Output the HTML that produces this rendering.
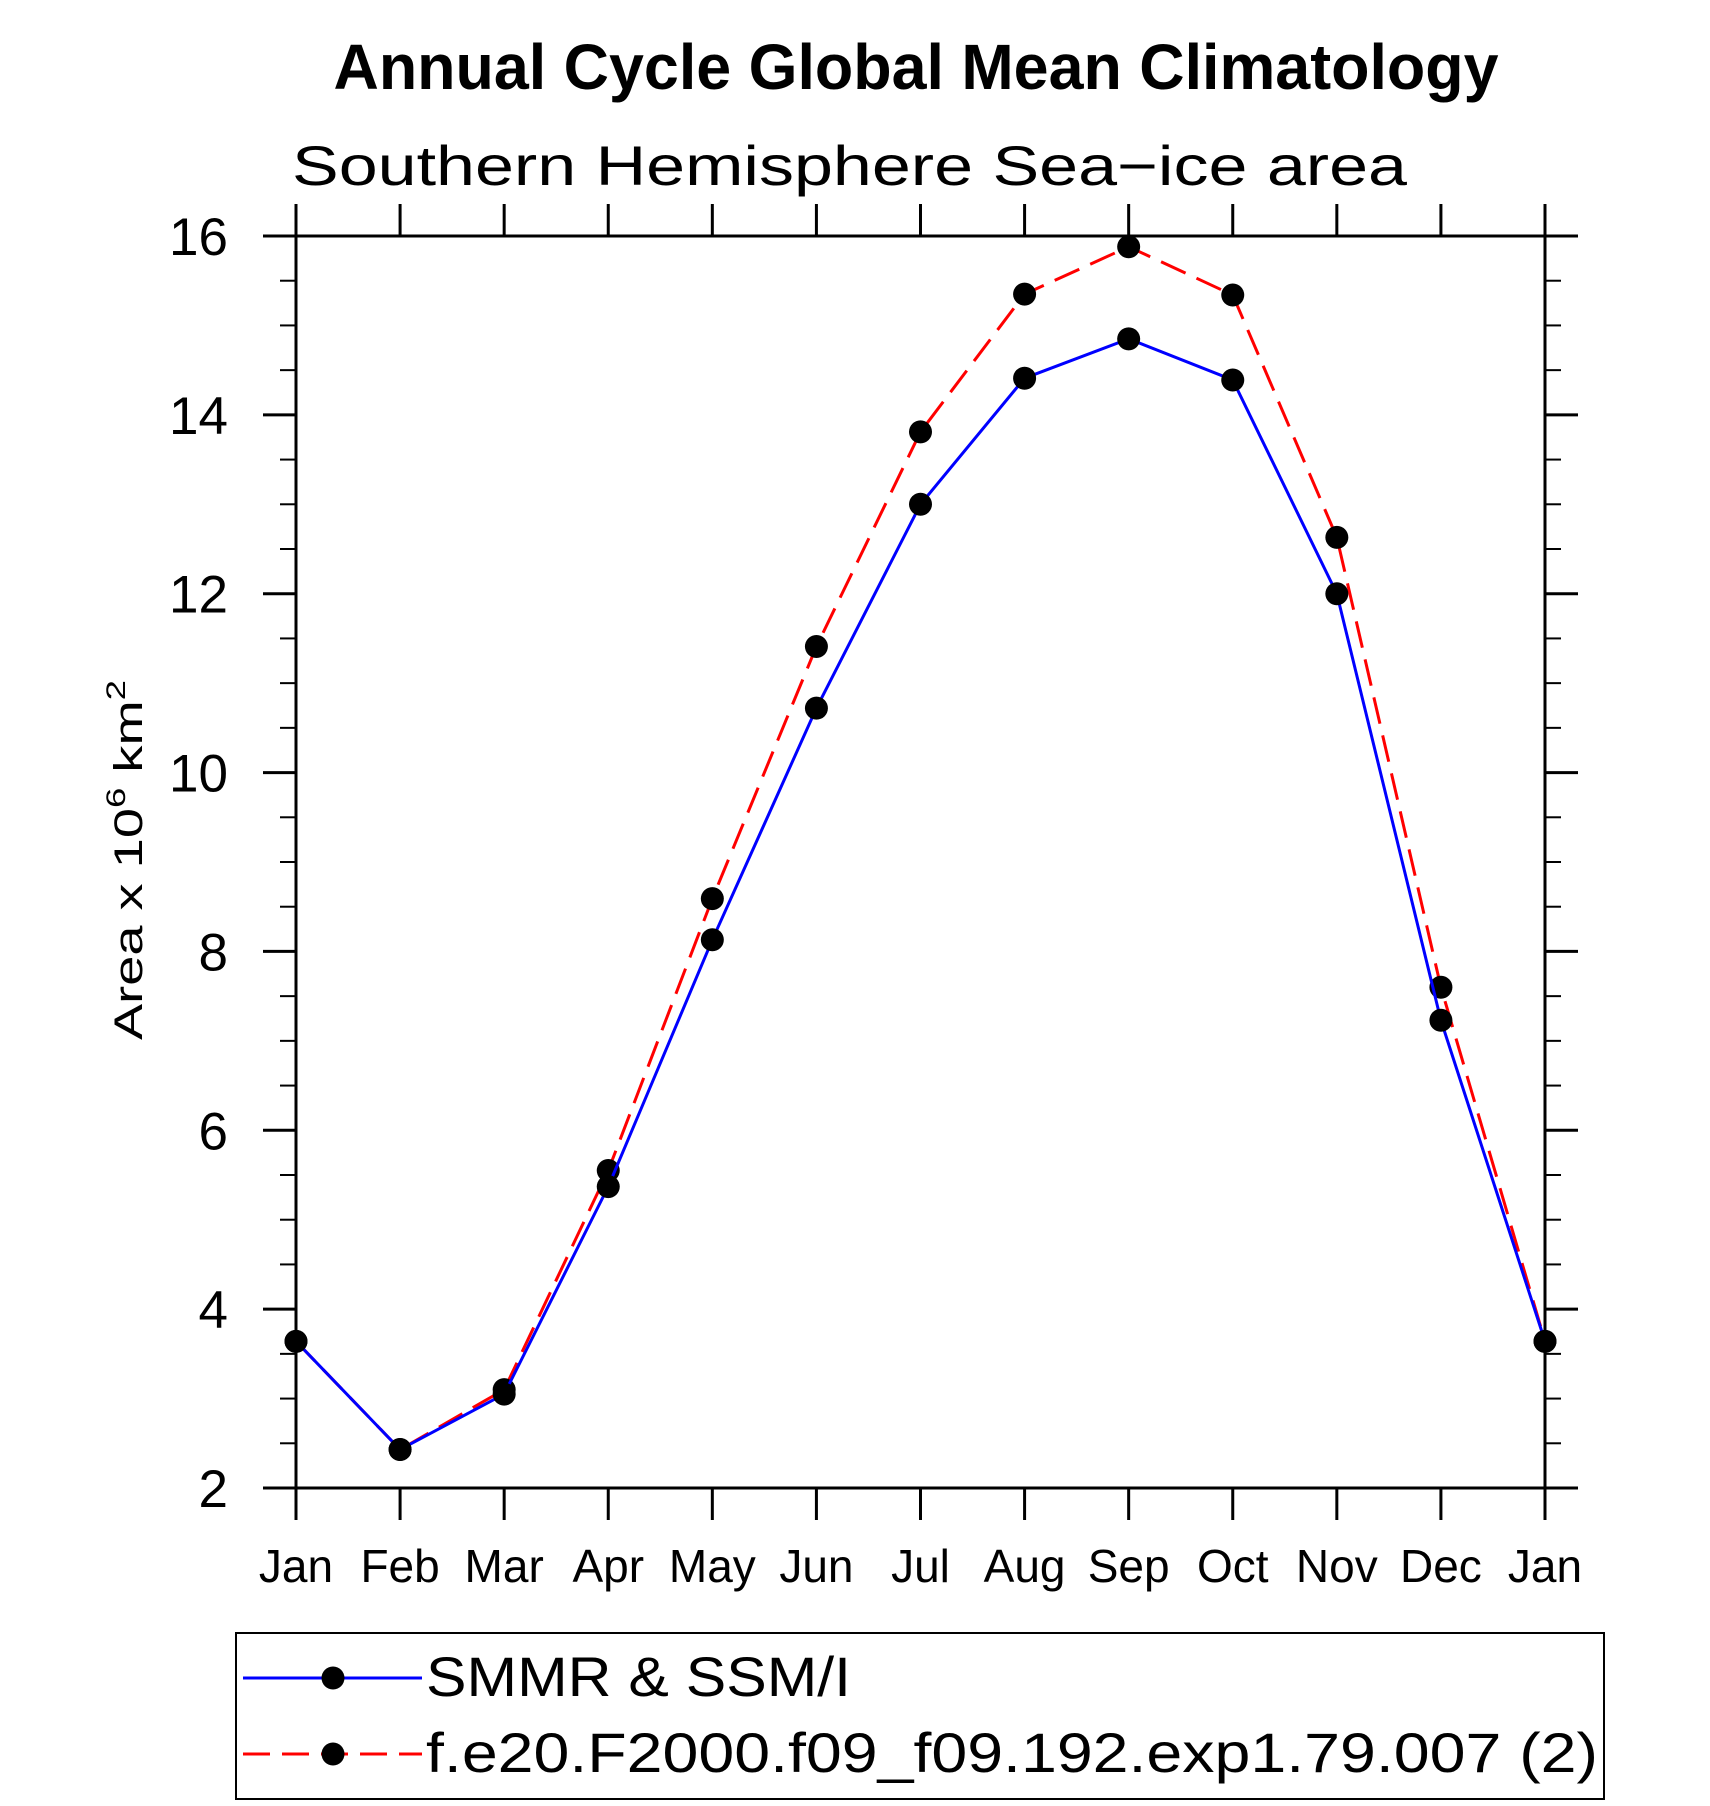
<!DOCTYPE html>
<html><head><meta charset="utf-8"><style>html,body{margin:0;padding:0;background:#fff}svg{display:block}text{font-family:"Liberation Sans",sans-serif;fill:#000}</style></head>
<body>
<svg id="chart" width="1710" height="1806" viewBox="0 0 1710 1806" xmlns="http://www.w3.org/2000/svg">
<text x="916" y="89" text-anchor="middle" font-size="64" font-weight="bold" textLength="1165" lengthAdjust="spacingAndGlyphs">Annual Cycle Global Mean Climatology</text>
<text x="292" y="185" font-size="56" font-weight="300" textLength="1115" lengthAdjust="spacingAndGlyphs">Southern Hemisphere Sea−ice area</text>
<text transform="translate(142,860) rotate(-90)" text-anchor="middle" font-size="40" textLength="360" lengthAdjust="spacingAndGlyphs">Area x 10<tspan font-size="27" dy="-17">6</tspan><tspan dy="17"> km</tspan><tspan font-size="27" dy="-17">2</tspan></text>
<g id="axes"></g>
<g id="series"></g>
<g>
<rect x="236" y="1633" width="1368" height="166" fill="none" stroke="#000" stroke-width="2"/>
<g>
<line x1="243" y1="1678" x2="422" y2="1678" stroke="#0000ff" stroke-width="3"/>
<circle cx="333" cy="1678" r="11.5" fill="#000"/>
<text x="426" y="1696" font-size="56" textLength="425" lengthAdjust="spacingAndGlyphs">SMMR &amp; SSM/I</text>
</g>
<g>
<line x1="243" y1="1754" x2="422" y2="1754" stroke="#ff0000" stroke-width="3" stroke-dasharray="27,12"/>
<circle cx="333" cy="1754" r="11.5" fill="#000"/>
<text x="426" y="1772" font-size="56" textLength="1172" lengthAdjust="spacingAndGlyphs">f.e20.F2000.f09_f09.192.exp1.79.007 (2)</text>
</g>
</g>
</svg>
<script>
const months = ["Jan","Feb","Mar","Apr","May","Jun","Jul","Aug","Sep","Oct","Nov","Dec","Jan"];
const obsValues = [3.64,2.43,3.05,5.37,8.13,10.72,13.0,14.41,14.85,14.39,12.0,7.23,3.64];
const modelValues = [3.64,2.43,3.10,5.55,8.59,11.41,13.81,15.35,15.88,15.34,12.63,7.6,3.64];
const yTicks = [2,4,6,8,10,12,14,16];
const yMin = 2, yMax = 16;
const L = 296, R = 1545, T = 236, B = 1488;
const NS = "http://www.w3.org/2000/svg";
function xs(i){return L + (R-L)*i/(months.length-1);}
function ys(v){return B - (B-T)*(v-yMin)/(yMax-yMin);}
function mk(tag, attrs, parent){const e=document.createElementNS(NS,tag);for(const k in attrs)e.setAttribute(k,attrs[k]);parent.appendChild(e);return e;}
const axes=document.getElementById('axes');
const frame=mk('rect',{x:L,y:T,width:R-L,height:B-T,fill:'none',stroke:'#000','stroke-width':3},axes);


months.forEach((m,i)=>{
  const x=xs(i);
  const tb=mk('line',{x1:x,y1:B,x2:x,y2:B+32,stroke:'#000','stroke-width':3},axes);
  
  
  const tt=mk('line',{x1:x,y1:T,x2:x,y2:T-32,stroke:'#000','stroke-width':3},axes);
  
  
  const t=mk('text',{x:x,y:1582,'text-anchor':'middle','font-size':46},axes);
  
  
  t.textContent=m;
});
for(let v=yMin; v<=yMax+1e-9; v+=0.5){
  const y=ys(v);
  const major=Math.abs(v-Math.round(v/2)*2)<1e-9;
  const len=major?33:16;
  const a=mk('line',{x1:L-len,y1:y,x2:L,y2:y,stroke:'#000','stroke-width':major?3:2},axes);
  
  
  const b=mk('line',{x1:R,y1:y,x2:R+len,y2:y,stroke:'#000','stroke-width':major?3:2},axes);
  
  
}
yTicks.forEach(v=>{
  const t=mk('text',{x:228,y:ys(v)+19,'text-anchor':'end','font-size':53},axes);
  
  
  t.textContent=String(v);
});
const series=document.getElementById('series');
function draw(vals,color,dash,name){
  const pts=vals.map((v,i)=>xs(i)+','+ys(v)).join(' ');
  const attrs={points:pts,fill:'none',stroke:color,'stroke-width':3};
  if(dash)attrs['stroke-dasharray']=dash;
  const pl=mk('polyline',attrs,series);
  
  
  vals.forEach((v,i)=>{
    const c=mk('circle',{cx:xs(i),cy:ys(v),r:11.5,fill:'#000'},series);
    
    
  });
}
draw(modelValues,'#ff0000','27,12','model');
draw(obsValues,'#0000ff',null,'obs');
</script>
</body></html>
